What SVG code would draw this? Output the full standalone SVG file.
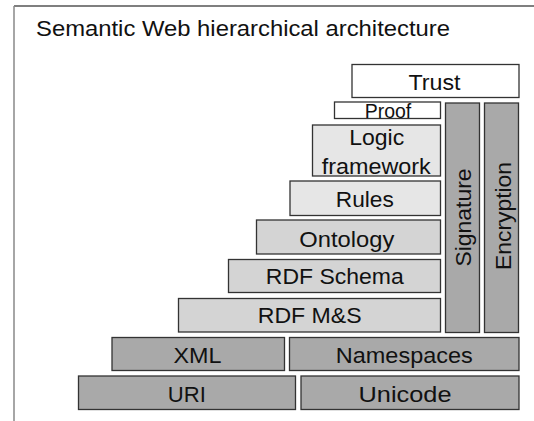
<svg xmlns="http://www.w3.org/2000/svg" width="534" height="421" viewBox="0 0 534 421">
  <style>
    .box { stroke: #333; stroke-width: 1.3; }
    .dark { fill: #a9a9a9; }
    .mid { fill: #d4d4d4; }
    .light { fill: #e6e6e6; }
    .white { fill: #ffffff; }
    text { font-family: "Liberation Sans", Arial, Helvetica, sans-serif; font-size: 22.5px; fill: #111; text-anchor: middle; }
    .title { text-anchor: start; font-size: 22px; }
  </style>
  <rect width="534" height="421" fill="#ffffff"/>

  <!-- frame -->
  <g id="frame">
    <line x1="14" y1="6" x2="534" y2="6" stroke="#555" stroke-width="1.5"/>
    <line x1="14" y1="6" x2="14" y2="421" stroke="#888" stroke-width="1.5"/>
  </g>

  <text class="title" x="36" y="36" textLength="414" lengthAdjust="spacingAndGlyphs">Semantic Web hierarchical architecture</text>

  <g id="trust">
    <rect class="box white" x="352" y="64.5" width="167" height="33"/>
    <text x="434.5" y="90" textLength="52" lengthAdjust="spacingAndGlyphs">Trust</text>
  </g>
  <g id="proof">
    <rect class="box white" x="334.5" y="102" width="106" height="16.5"/>
    <text x="388" y="117.5" style="font-size:19.5px" textLength="46.5" lengthAdjust="spacingAndGlyphs">Proof</text>
  </g>
  <g id="signature">
    <rect class="box dark" x="445.5" y="103" width="34" height="229.5"/>
    <text transform="translate(470.5,217.5) rotate(-90)" textLength="98" lengthAdjust="spacingAndGlyphs">Signature</text>
  </g>
  <g id="encryption">
    <rect class="box dark" x="484.5" y="103" width="34" height="229.5"/>
    <text transform="translate(511,216) rotate(-90)" textLength="108" lengthAdjust="spacingAndGlyphs">Encryption</text>
  </g>
  <g id="logic">
    <rect class="box light" x="312.5" y="125" width="128" height="51"/>
    <text x="376.7" y="145" textLength="55" lengthAdjust="spacingAndGlyphs">Logic</text>
    <text x="376.3" y="173.5" textLength="109" lengthAdjust="spacingAndGlyphs">framework</text>
  </g>
  <g id="rules">
    <rect class="box light" x="290" y="181" width="150.5" height="34.5"/>
    <text x="364.8" y="206.7" textLength="58" lengthAdjust="spacingAndGlyphs">Rules</text>
  </g>
  <g id="ontology">
    <rect class="box mid" x="256.5" y="220" width="184" height="34"/>
    <text x="346.8" y="246.7" textLength="95" lengthAdjust="spacingAndGlyphs">Ontology</text>
  </g>
  <g id="rdf-schema">
    <rect class="box mid" x="228.5" y="259.5" width="212" height="33"/>
    <text x="334.8" y="284.3" textLength="138" lengthAdjust="spacingAndGlyphs">RDF Schema</text>
  </g>
  <g id="rdf-ms">
    <rect class="box mid" x="178.5" y="298.5" width="262" height="33.5"/>
    <text x="309.7" y="322.7" textLength="104" lengthAdjust="spacingAndGlyphs">RDF M&amp;S</text>
  </g>
  <g id="xml">
    <rect class="box dark" x="112" y="337.5" width="172.5" height="33"/>
    <text x="197.5" y="362.7" textLength="48" lengthAdjust="spacingAndGlyphs">XML</text>
  </g>
  <g id="namespaces">
    <rect class="box dark" x="289.5" y="337.5" width="229.5" height="33"/>
    <text x="404.3" y="362.7" textLength="137" lengthAdjust="spacingAndGlyphs">Namespaces</text>
  </g>
  <g id="uri">
    <rect class="box dark" x="78.5" y="376" width="217" height="33.5"/>
    <text x="186.8" y="401.7" textLength="38" lengthAdjust="spacingAndGlyphs">URI</text>
  </g>
  <g id="unicode">
    <rect class="box dark" x="301" y="376" width="218" height="33.5"/>
    <text x="405" y="401.7" textLength="93" lengthAdjust="spacingAndGlyphs">Unicode</text>
  </g>

  <g id="connectors"/>
</svg>
